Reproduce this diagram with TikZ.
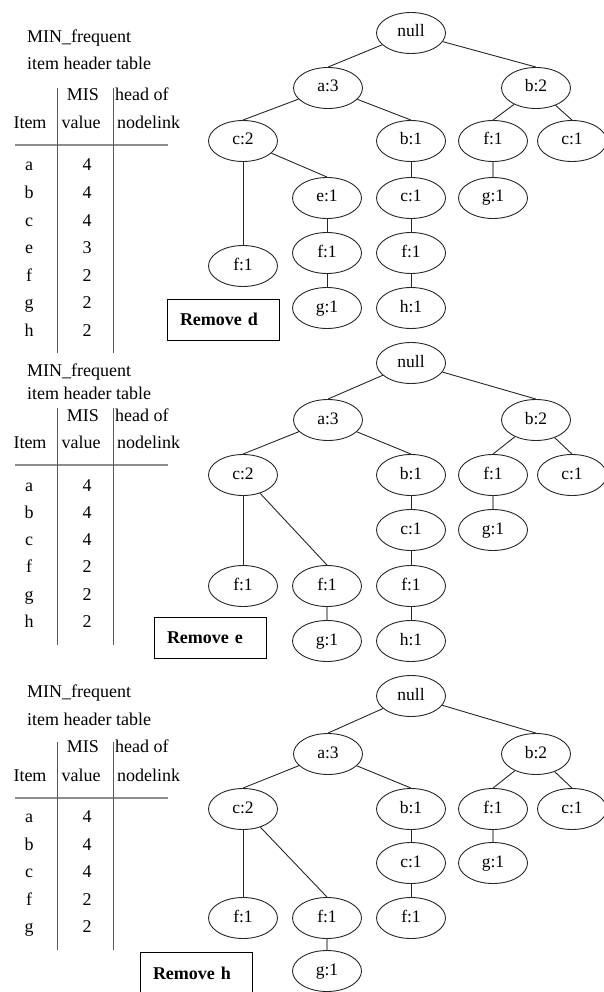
\documentclass[tikz,border=0pt]{standalone}
\usepackage{fontspec}
\setmainfont{Liberation Serif}
\usetikzlibrary{shapes.geometric}
\begin{document}
\begin{tikzpicture}[x=1pt,y=-1pt,
  fp/.style={ellipse, draw=black!85, line width=0.9pt, minimum width=69pt,
    minimum height=41pt, inner sep=0pt, font=\fontsize{17.5}{20}\selectfont,
    text height=11pt, text depth=3pt},
  link/.style={draw=black!85, line width=0.9pt},
  faint/.style={draw=black!40, line width=1.1pt},
  lbl/.style={inner sep=0pt, font=\fontsize{18}{21}\selectfont,
    text height=12pt, text depth=4pt},
  rule/.style={draw=black!65, line width=0.9pt},
  hrule/.style={draw=black!45, line width=1.7pt},
  stepnote/.style={draw=black, line width=1pt, text width=86pt,
    inner xsep=13pt, inner ysep=0pt, minimum height=41pt, align=left,
    font=\fontsize{18}{21}\selectfont\bfseries},
]
\useasboundingbox (0,0) rectangle (603,992);

% ---------------- panel 1: header table ----------------
\node[lbl, anchor=west] (tcapa) at (27,39) {MIN\_frequent};
\node[lbl, anchor=west] (tcapb) at (27,66) {item header table};
\node[lbl] (tmis) at (83,97) {MIS};
\node[lbl, anchor=west] (thead) at (115,97) {head of};
\node[lbl] (titem) at (30,125) {Item};
\node[lbl] (tval) at (81,125) {value};
\node[lbl, anchor=west] (tlink) at (117,125) {nodelink};
\draw[hrule] (15,145) -- (168,145);
\draw[rule] (57,88) -- (57,353);
\draw[rule] (113,88) -- (113,353);
\foreach \k/\v/\y in {a/4/167, b/4/194.5, c/4/222, e/3/249.5, f/2/277, g/2/304.5, h/2/332}{
  \node[lbl] (t-\k) at (29,\y) {\k};
  \node[lbl] (t-\k v) at (87,\y) {\v};
}
\node[stepnote] (tstep) at (223,319.5) {\mbox{Remove d}};

% ---------------- panel 1: tree ----------------
\node[fp] (tnull) at (411,33) {null};
\node[fp] (ta3) at (328,88) {a:3};
\node[fp] (tb2) at (536,88) {b:2};
\node[fp] (tc2) at (243,141) {c:2};
\node[fp] (tb1) at (411,141) {b:1};
\node[fp] (tf1r) at (493,141) {f:1};
\node[fp] (tc1r) at (572,141) {c:1};
\node[fp] (te1) at (327,198) {e:1};
\node[fp] (tc1m) at (411,198) {c:1};
\node[fp] (tg1r) at (493,198) {g:1};
\node[fp] (tf1a) at (243,266) {f:1};
\node[fp] (tf1b) at (327,253) {f:1};
\node[fp] (tf1c) at (411,253) {f:1};
\node[fp] (tg1) at (327,308) {g:1};
\node[fp] (th1) at (411,308) {h:1};
\draw[link] (tnull) -- (ta3.north);
\draw[link] (tnull) -- (tb2.north);
\draw[link] (ta3) -- (tc2.north);
\draw[link] (ta3) -- (tb1.north);
\draw[link] (tb2) -- (tf1r.north);
\draw[link] (tb2) -- (tc1r.north);
\draw[link] (tc2) -- (tf1a.north);
\draw[link] (tc2) -- (te1.north);
\draw[link] (te1) -- (tf1b.north);
\draw[link] (tf1b) -- (tg1.north);
\draw[link] (tb1) -- (tc1m.north);
\draw[link] (tc1m) -- (tf1c.north);
\draw[link] (tf1c) -- (th1.north);
\draw[faint] (tf1r) -- (tg1r.north);

% ---------------- panel 2: header table ----------------
\node[lbl, anchor=west] (mcapa) at (27,372) {MIN\_frequent};
\node[lbl, anchor=west] (mcapb) at (27,395) {item header table};
\node[lbl] (mmis) at (83,417) {MIS};
\node[lbl, anchor=west] (mhead) at (115,417) {head of};
\node[lbl] (mitem) at (30,444) {Item};
\node[lbl] (mval) at (81,444) {value};
\node[lbl, anchor=west] (mlink) at (117,444) {nodelink};
\draw[hrule] (15,465) -- (168,465);
\draw[rule] (57,408) -- (57,645);
\draw[rule] (113,408) -- (113,645);
\foreach \k/\v/\y in {a/4/487, b/4/514, c/4/541, f/2/568.5, g/2/596, h/2/623}{
  \node[lbl] (m-\k) at (29,\y) {\k};
  \node[lbl] (m-\k v) at (87,\y) {\v};
}
\node[stepnote] (mstep) at (210,638) {\mbox{Remove e}};

% ---------------- panel 2: tree ----------------
\node[fp] (mnull) at (411,363) {null};
\node[fp] (ma3) at (328,420) {a:3};
\node[fp] (mb2) at (536,420) {b:2};
\node[fp] (mc2) at (243,475) {c:2};
\node[fp] (mb1) at (411,475) {b:1};
\node[fp] (mf1r) at (493,475) {f:1};
\node[fp] (mc1r) at (572,475) {c:1};
\node[fp] (mc1m) at (411,530) {c:1};
\node[fp] (mg1r) at (493,530) {g:1};
\node[fp] (mf1a) at (243,586) {f:1};
\node[fp] (mf1b) at (327,586) {f:1};
\node[fp] (mf1c) at (411,586) {f:1};
\node[fp] (mg1) at (327,641) {g:1};
\node[fp] (mh1) at (411,641) {h:1};
\draw[link] (mnull) -- (ma3.north);
\draw[link] (mnull) -- (mb2.north);
\draw[link] (ma3) -- (mc2.north);
\draw[link] (ma3) -- (mb1.north);
\draw[link] (mb2) -- (mf1r.north);
\draw[link] (mb2) -- (mc1r.north);
\draw[link] (mc2) -- (mf1a.north);
\draw[link] (mc2) -- (mf1b.north);
\draw[faint] (mf1b) -- (mg1.north);
\draw[link] (mb1) -- (mc1m.north);
\draw[link] (mc1m) -- (mf1c.north);
\draw[link] (mf1c) -- (mh1.north);
\draw[faint] (mf1r) -- (mg1r.north);

% ---------------- panel 3: header table ----------------
\node[lbl, anchor=west] (bcapa) at (27,693) {MIN\_frequent};
\node[lbl, anchor=west] (bcapb) at (27,721) {item header table};
\node[lbl] (bmis) at (83,748) {MIS};
\node[lbl, anchor=west] (bhead) at (115,748) {head of};
\node[lbl] (bitem) at (30,777) {Item};
\node[lbl] (bval) at (81,777) {value};
\node[lbl, anchor=west] (blink) at (117,777) {nodelink};
\draw[hrule] (15,798) -- (168,798);
\draw[rule] (57,742) -- (57,950);
\draw[rule] (113,742) -- (113,950);
\foreach \k/\v/\y in {a/4/818, b/4/846, c/4/873, f/2/901, g/2/928}{
  \node[lbl] (b-\k) at (29,\y) {\k};
  \node[lbl] (b-\k v) at (87,\y) {\v};
}
\node[stepnote] (bstep) at (196,973) {\mbox{Remove h}};

% ---------------- panel 3: tree ----------------
\node[fp] (bnull) at (411,696) {null};
\node[fp] (ba3) at (328,754) {a:3};
\node[fp] (bb2) at (536,754) {b:2};
\node[fp] (bc2) at (243,809) {c:2};
\node[fp] (bb1) at (411,809) {b:1};
\node[fp] (bf1r) at (493,809) {f:1};
\node[fp] (bc1r) at (572,809) {c:1};
\node[fp] (bc1m) at (411,863) {c:1};
\node[fp] (bg1r) at (493,863) {g:1};
\node[fp] (bf1a) at (243,918) {f:1};
\node[fp] (bf1b) at (327,918) {f:1};
\node[fp] (bf1c) at (411,918) {f:1};
\node[fp] (bg1) at (327,971) {g:1};
\draw[link] (bnull) -- (ba3.north);
\draw[link] (bnull) -- (bb2.north);
\draw[link] (ba3) -- (bc2.north);
\draw[link] (ba3) -- (bb1.north);
\draw[link] (bb2) -- (bf1r.north);
\draw[link] (bb2) -- (bc1r.north);
\draw[link] (bc2) -- (bf1a.north);
\draw[link] (bc2) -- (bf1b.north);
\draw[faint] (bf1b) -- (bg1.north);
\draw[link] (bb1) -- (bc1m.north);
\draw[link] (bc1m) -- (bf1c.north);
\draw[faint] (bf1r) -- (bg1r.north);
\end{tikzpicture}
\end{document}
